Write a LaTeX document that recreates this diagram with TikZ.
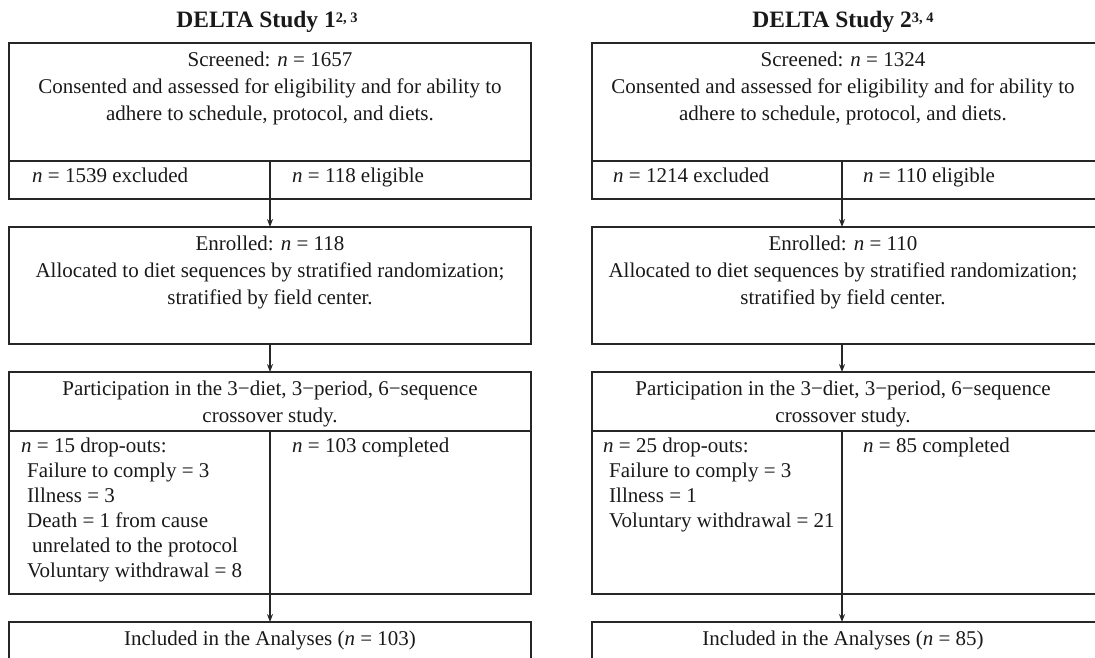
\documentclass[tikz,border=0pt]{standalone}
\usepackage{fontspec}
\setmainfont{Liberation Serif}
\usetikzlibrary{arrows.meta}
\tikzset{box/.style={draw=black!85, line width=1.3pt, inner sep=0pt, outer sep=0pt, anchor=north west}}
\tikzset{txt/.style={inner sep=0pt, anchor=north, align=center, text=black!90, font=\fontsize{21}{27}\selectfont}}
\tikzset{ltxt/.style={inner sep=0pt, anchor=north west, align=left, text=black!90, font=\fontsize{21}{25}\selectfont}}
\tikzset{head/.style={inner sep=0pt, anchor=base, text=black!90, font=\bfseries\fontsize{23.5}{28}\selectfont}}
\tikzset{down/.style={-{Stealth[length=8pt,width=6pt]}, line width=1.3pt, draw=black!85}}
\newcommand{\nn}{\textit{n}}
\newcommand{\supnote}[1]{\raisebox{5.5pt}{\fontsize{14.5}{15}\selectfont #1}}

\begin{document}
\begin{tikzpicture}[x=1pt,y=-1pt]
	\useasboundingbox (0,0) rectangle (1095,657);

	% DELTA Study 1
	\node[head] (titA) at (267,27.5) {DELTA Study 1\supnote{2, 3}};
	\node[box, minimum width=522pt, minimum height=118pt] (scrA) at (9,43) {};
	\node[box, minimum width=261pt, minimum height=38pt] (exA) at (9,161) {};
	\node[box, minimum width=261pt, minimum height=38pt] (elA) at (270,161) {};
	\node[box, minimum width=522pt, minimum height=117pt] (enrA) at (9,227) {};
	\node[box, minimum width=522pt, minimum height=59pt] (partA) at (9,372) {};
	\node[box, minimum width=261pt, minimum height=163pt] (dropA) at (9,431) {};
	\node[box, minimum width=261pt, minimum height=163pt] (compA) at (270,431) {};
	\node[box, minimum width=522pt, minimum height=70pt] (inclA) at (9,622) {};

	\node[txt] (scrAt) at (270,51.8) {Screened: \nn{} = 1657\\Consented and assessed for eligibility and for ability to\\adhere to schedule, protocol, and diets.};
	\node[ltxt] (exAt) at (32,167.8) {\nn{} = 1539 excluded};
	\node[ltxt] (elAt) at (292,167.8) {\nn{} = 118 eligible};
	\node[txt] (enrAt) at (270,235.6) {Enrolled: \nn{} = 118\\Allocated to diet sequences by stratified randomization;\\stratified by field center.};
	\node[txt] (partAt) at (270,380.8) {Participation in the 3−diet, 3−period, 6−sequence\\crossover study.};
	\node[ltxt] (dropAt) at (21,437.8) {\nn{} = 15 drop-outs:\\\hspace*{6pt}Failure to comply = 3\\\hspace*{6pt}Illness = 3\\\hspace*{6pt}Death = 1 from cause\\\hspace*{11pt}unrelated to the protocol\\\hspace*{6pt}Voluntary withdrawal = 8};
	\node[ltxt] (compAt) at (292,437.8) {\nn{} = 103 completed};
	\node[txt] (inclAt) at (270,630.6) {Included in the Analyses (\nn{} = 103)};

	\draw[down] (exA.south east) -- (enrA.north);
	\draw[down] (enrA.south) -- (partA.north);
	\draw[down] (dropA.south east) -- (inclA.north);

	% DELTA Study 2
	\node[head] (titB) at (843,27.5) {DELTA Study 2\supnote{3, 4}};
	\node[box, minimum width=506pt, minimum height=118pt] (scrB) at (592,43) {};
	\node[box, minimum width=250pt, minimum height=38pt] (exB) at (592,161) {};
	\node[box, minimum width=256pt, minimum height=38pt] (elB) at (842,161) {};
	\node[box, minimum width=506pt, minimum height=117pt] (enrB) at (592,227) {};
	\node[box, minimum width=506pt, minimum height=59pt] (partB) at (592,372) {};
	\node[box, minimum width=250pt, minimum height=163pt] (dropB) at (592,431) {};
	\node[box, minimum width=256pt, minimum height=163pt] (compB) at (842,431) {};
	\node[box, minimum width=506pt, minimum height=70pt] (inclB) at (592,622) {};

	\node[txt] (scrBt) at (843,51.8) {Screened: \nn{} = 1324\\Consented and assessed for eligibility and for ability to\\adhere to schedule, protocol, and diets.};
	\node[ltxt] (exBt) at (613,167.8) {\nn{} = 1214 excluded};
	\node[ltxt] (elBt) at (863,167.8) {\nn{} = 110 eligible};
	\node[txt] (enrBt) at (843,235.6) {Enrolled: \nn{} = 110\\Allocated to diet sequences by stratified randomization;\\stratified by field center.};
	\node[txt] (partBt) at (843,380.8) {Participation in the 3−diet, 3−period, 6−sequence\\crossover study.};
	\node[ltxt] (dropBt) at (603,437.8) {\nn{} = 25 drop-outs:\\\hspace*{6pt}Failure to comply = 3\\\hspace*{6pt}Illness = 1\\\hspace*{6pt}Voluntary withdrawal = 21};
	\node[ltxt] (compBt) at (863,437.8) {\nn{} = 85 completed};
	\node[txt] (inclBt) at (843,630.6) {Included in the Analyses (\nn{} = 85)};

	\draw[down] (exB.south east) -- (exB.south east |- enrB.north);
	\draw[down] (exB.south east |- enrB.south) -- (exB.south east |- partB.north);
	\draw[down] (dropB.south east) -- (dropB.south east |- inclB.north);
\end{tikzpicture}
\end{document}
